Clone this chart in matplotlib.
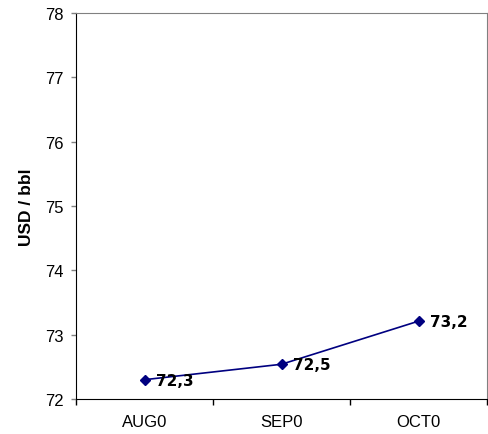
import numpy as np
import matplotlib
matplotlib.use('Agg')
import matplotlib.pyplot as plt

# data
months = ['AUG0', 'SEP0', 'OCT0']
prices = [72.3, 72.54, 73.21]
price_labels = ['72,3', '72,5', '73,2']

fig = plt.figure(figsize=(4.88, 4.35), dpi=100)
ax = fig.add_axes([76 / 488, 35 / 435, 411 / 488, 386 / 435])

x = np.arange(len(months))
ax.plot(x, prices, color='#000080', lw=1.2, marker='D', markersize=5.5,
        markerfacecolor='#000080', markeredgecolor='#000080')

for xi, yi, lab in zip(x, prices, price_labels):
    ax.annotate(lab, (xi, yi), xytext=(8, -0.5), textcoords='offset points',
                va='center', ha='left', fontsize=11, fontweight='bold',
                family='DejaVu Sans')

ax.set_xlim(-0.5, 2.5)
ax.set_ylim(72, 78)
ax.set_yticks(np.arange(72, 79, 1))

# category labels between boundary ticks
ax.set_xticks([-0.5, 0.5, 1.5, 2.5])
ax.set_xticklabels([])
ax.set_xticks(x, minor=True)
ax.set_xticklabels(months, minor=True)
ax.tick_params(axis='x', which='minor', length=0, pad=11, labelsize=12)
ax.tick_params(axis='x', which='major', length=4.3, width=1, color='black')
ax.tick_params(axis='y', length=3.6, width=1, color='#808080', labelsize=12, pad=5.5)
for lab in ax.get_xticklabels(minor=True) + ax.get_yticklabels():
    lab.set_family('Liberation Sans')

ax.spines['left'].set_color('black')
ax.spines['bottom'].set_color('black')
ax.spines['top'].set_color('#808080')
ax.spines['right'].set_color('#808080')

ax.set_ylabel('USD / bbl', fontsize=12.5, fontweight='bold', family='Liberation Sans', labelpad=8)

fig.savefig('out.png', dpi=100)
